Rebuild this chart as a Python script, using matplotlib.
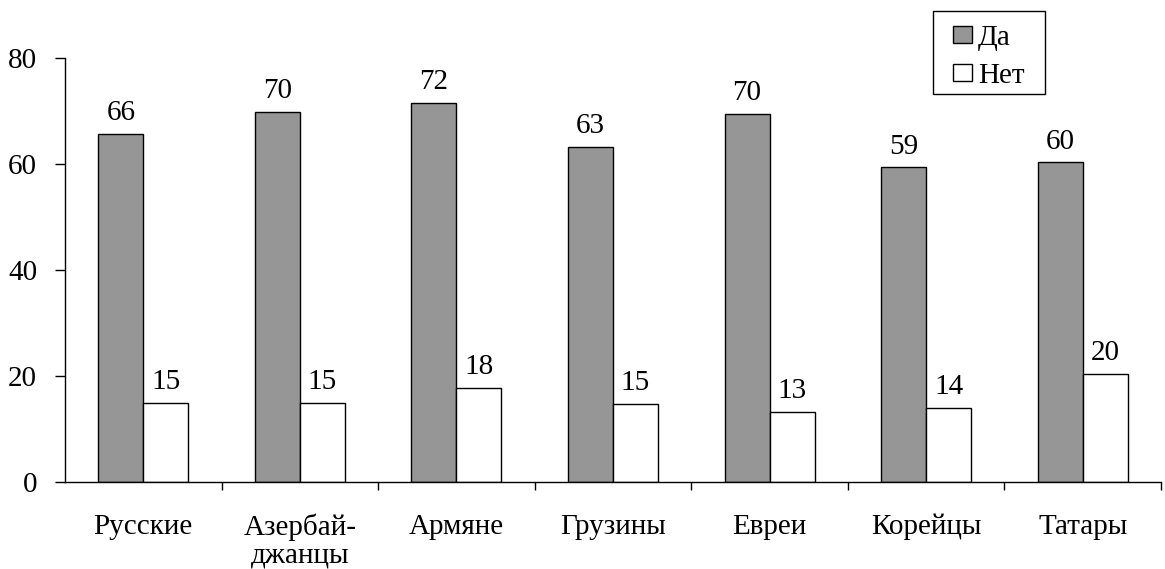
import numpy as np
import matplotlib.pyplot as plt
from matplotlib.patches import Rectangle
from matplotlib.ticker import FixedLocator

plt.rcParams['font.family'] = ['Liberation Serif', 'DejaVu Serif']

categories = ["Русские", "Азербай-\nджанцы", "Армяне", "Грузины", "Евреи", "Корейцы", "Татары"]
da = [65.7, 69.9, 71.6, 63.2, 69.5, 59.4, 60.3]
net = [15.0, 15.0, 17.8, 14.7, 13.3, 14.0, 20.4]

W, H = 1165, 569
fig = plt.figure(figsize=(W / 100, H / 100), dpi=100)
ax = fig.add_axes([65 / W, 1 - 482 / H, 1096 / W, 424 / H])

x = np.arange(len(categories))
w = 0.287
b1 = ax.bar(x - w / 2, da, w, color="#969696", edgecolor="black", linewidth=1, label="Да")
b2 = ax.bar(x + w / 2, net, w, color="white", edgecolor="black", linewidth=1, label="Нет")

for rects in (b1, b2):
    for r in rects:
        ax.annotate(f"{r.get_height():.0f}", (r.get_x() + r.get_width() / 2, r.get_height()),
                    xytext=(0, 5.5), textcoords="offset points", ha="center", va="bottom", fontsize=21)

ax.set_xlim(-0.5, len(categories) - 0.5)
ax.set_ylim(0, 80)
ax.set_yticks([0, 20, 40, 60, 80])
ax.set_xticks(x)
ax.set_xticklabels(categories, fontsize=21, linespacing=1.05)
ax.xaxis.set_minor_locator(FixedLocator(np.arange(0.5, len(categories), 1)))
ax.tick_params(axis="x", which="major", length=0, pad=23)
ax.tick_params(axis="x", which="minor", length=6, width=1, direction="out")
ax.tick_params(axis="y", labelsize=21, length=7, width=1, direction="out", pad=13)

for s in ("top", "right"):
    ax.spines[s].set_visible(False)
for s in ("left", "bottom"):
    ax.spines[s].set_linewidth(1)

# legend box drawn separately to match the original's proportions
fig.patches.append(Rectangle((933 / W, 1 - 94 / H), 112 / W, 83 / H, transform=fig.transFigure,
                             facecolor="white", edgecolor="black", linewidth=1, zorder=5))
leg = fig.legend(handles=[b1, b2], loc="upper left", bbox_to_anchor=(953 / W, 1 - 25 / H),
                 fontsize=21, frameon=False, handlelength=0.65, handleheight=0.55, handletextpad=0.2,
                 borderpad=0, borderaxespad=0, labelspacing=0.4)
leg.set_zorder(6)

fig.savefig("out.png", dpi=100)
